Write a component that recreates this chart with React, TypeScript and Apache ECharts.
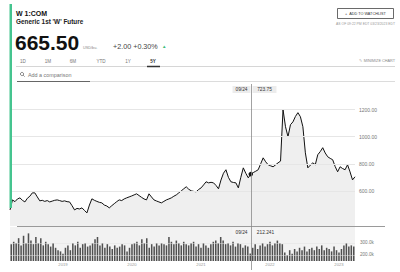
import React, { useEffect, useRef } from "react";
import * as echarts from "echarts";

const priceValues: number[] = [
  459, 533, 520, 540, 548, 530, 518, 545, 560, 585,
  585, 555, 526, 530, 522, 528, 518, 524, 530, 533,
  528, 522, 526, 520, 518, 490, 459, 470, 466, 474,
  455, 437, 495, 541, 530, 522, 515, 511, 495, 488,
  474, 490, 505, 520, 533, 528, 540, 548, 555, 562,
  570, 578, 565, 552, 540, 533, 578, 555, 533, 525,
  518, 511, 522, 533, 540, 548, 560, 570, 585, 600,
  615, 630, 612, 600, 596, 593, 610, 622, 644, 667,
  659, 663, 659, 640, 615, 680, 730, 756, 700, 667,
  662, 659, 622, 700, 770, 730, 696, 723.75, 735, 745,
  756, 800, 844, 815, 793, 785, 778, 792, 807, 820,
  1200, 1074, 1000, 1089, 1110, 1150, 1178, 1148, 1074, 881,
  770, 790, 807, 793, 867, 890, 919, 880, 852, 840,
  830, 780, 741, 778, 765, 756, 793, 740, 681, 704,
];

const volumeValues: number[] = [
  290, 310, 300, 340, 280, 360, 300, 380, 320, 290, 350,
  300, 340, 280, 310, 290, 270, 300, 260, 240, 230,
  210, 260, 280, 240, 300, 280, 310, 260, 290, 300,
  270, 280, 300, 330, 350,
  280, 300, 260, 290, 270, 250, 280, 260, 270, 290, 280, 230, 260, 290, 300,
  310, 280, 330, 300, 340, 260, 290, 270, 300, 280,
  300, 290, 280, 350, 310, 290, 320, 300, 280, 310, 290,
  280, 300, 310, 270, 290, 260, 300, 280, 260, 290, 310, 320, 300, 350,
  320, 290, 300, 280, 310, 270, 300, 290, 260, 280, 270, 212.241,
  260, 290, 250, 280, 300, 270, 290, 310, 280, 300,
  320, 300, 290, 220, 200, 240, 210, 250,
  230, 260, 240, 270, 230, 250, 260, 240, 270, 250,
  280, 240, 260, 250, 230, 270, 240, 220, 250, 280,
  300, 270, 280, 270,
];

const priceTicks: number[] = [600, 800, 1000, 1200];
const volumeTicks: number[] = [200, 300];
const tabLabels: string[] = ["1D", "1M", "6M", "YTD", "1Y", "5Y"];
const crosshairIndex = 97;
const crosshairDate = "09/24";

const END_DATE = Date.UTC(2023, 2, 24);
const STEP_DAYS = 13;
const pad = (n: number) => (n < 10 ? "0" + n : "" + n);
const categories: string[] = priceValues.map((_, i) => {
  const d = new Date(END_DATE - (priceValues.length - 1 - i) * STEP_DAYS * 86400000);
  return `${d.getUTCFullYear()}-${pad(d.getUTCMonth() + 1)}-${pad(d.getUTCDate())}`;
});

const FONT = "Liberation Sans, Arial, sans-serif";

export default function App() {
  const ref = useRef<HTMLDivElement>(null);
  useEffect(() => {
    if (!ref.current) return;
    const chart = echarts.init(ref.current, undefined, { renderer: "svg" });

    const tabX = [23, 48, 73, 101, 128, 153];
    const header: any[] = [
      { type: "rect", shape: { x: 9.5, y: 4, width: 2.5, height: 204 }, style: { fill: "#45c48f" }, z: 10 },
      { type: "text", x: 16, y: 13, style: { text: "W 1:COM", font: `bold 7px ${FONT}`, fill: "#111", verticalAlign: "middle" } },
      { type: "text", x: 16, y: 21, style: { text: "Generic 1st 'W' Future", font: `600 6.4px ${FONT}`, fill: "#222", verticalAlign: "middle" } },
      { type: "text", x: 15, y: 42, style: { text: "665.50", font: `bold 21px ${FONT}`, fill: "#111", verticalAlign: "middle" } },
      { type: "text", x: 83, y: 48, style: { text: "USD/bu.", font: `3.8px ${FONT}`, fill: "#888", verticalAlign: "middle" } },
      { type: "text", x: 113, y: 46, style: { text: "+2.00 +0.30%", font: `7.2px ${FONT}`, fill: "#444", verticalAlign: "middle" } },
      { type: "text", x: 162, y: 46, style: { text: "▲", font: `4.5px ${FONT}`, fill: "#3dbb7a", verticalAlign: "middle" } },
      ...tabLabels.map((t, i) => ({
        type: "text", x: tabX[i], y: 61,
        style: { text: t, font: `${t === "5Y" ? "bold " : ""}4.6px ${FONT}`, fill: t === "5Y" ? "#333" : "#777", align: "center", verticalAlign: "middle" },
      })),
      { type: "line", shape: { x1: 16, y1: 66.5, x2: 395, y2: 66.5 }, style: { stroke: "#d6d6d6", lineWidth: 1 } },
      { type: "line", shape: { x1: 147, y1: 66.5, x2: 160, y2: 66.5 }, style: { stroke: "#333", lineWidth: 1.5 } },
      { type: "rect", shape: { x: 337.5, y: 8.5, width: 56, height: 10 }, style: { fill: "#fff", stroke: "#444", lineWidth: 0.8 } },
      { type: "text", x: 365.5, y: 13.5, style: { text: "+  ADD TO WATCHLIST", font: `3.8px ${FONT}`, fill: "#333", align: "center", verticalAlign: "middle" } },
      { type: "text", x: 395, y: 24, style: { text: "AS OF 09:22 PM EDT 03/23/2023 EDT", font: `3.4px ${FONT}`, fill: "#999", align: "right", verticalAlign: "middle" } },
      { type: "text", x: 395, y: 61, style: { text: "✎  MINIMIZE CHART", font: `3.8px ${FONT}`, fill: "#888", align: "right", verticalAlign: "middle" } },
      { type: "circle", shape: { cx: 22, cy: 74, r: 1.6 }, style: { fill: "none", stroke: "#555", lineWidth: 0.7 } },
      { type: "line", shape: { x1: 23.2, y1: 75.2, x2: 24.6, y2: 76.6 }, style: { stroke: "#555", lineWidth: 0.7 } },
      { type: "text", x: 28, y: 74.5, style: { text: "Add a comparison", font: `5.4px ${FONT}`, fill: "#777", verticalAlign: "middle" } },
      { type: "line", shape: { x1: 90, y1: 81.5, x2: 395, y2: 81.5 }, style: { stroke: "#dcdcdc", lineWidth: 1 } },
      { type: "line", shape: { x1: 17, y1: 81.5, x2: 90, y2: 81.5 }, style: { stroke: "#666", lineWidth: 1 } },
      { type: "text", x: 18, y: 220, style: { text: "BloombergMarkets", font: `bold 8.5px ${FONT}`, fill: "#d9d9d9", verticalAlign: "middle" }, z: 1 },
      { type: "line", shape: { x1: 17, y1: 226.5, x2: 385, y2: 226.5 }, style: { stroke: "#9a9a9a", lineWidth: 1 }, z: 10 },
    ];

    const option: any = {
      animation: false,
      backgroundColor: "#fff",
      grid: [
        { left: 10, right: 45, top: 84, height: 142, show: false },
        { left: 10, right: 45, top: 227, height: 34, show: true, backgroundColor: "#f2f2f2", borderWidth: 0 },
      ],
      xAxis: [
        { type: "category", gridIndex: 0, data: categories, boundaryGap: false, show: false },
        {
          type: "category", gridIndex: 1, data: categories, boundaryGap: true,
          axisLine: { show: false }, axisTick: { show: false },
          axisLabel: {
            margin: 1, fontSize: 4.2, color: "#999", fontFamily: FONT,
            interval: (i: number) => i > 0 && categories[i].slice(0, 4) !== categories[i - 1].slice(0, 4),
            formatter: (v: string) => v.slice(0, 4),
          },
        },
      ],
      yAxis: [
        { type: "value", gridIndex: 0, min: 340, max: 1390, show: false, splitLine: { show: false } },
        { type: "value", gridIndex: 1, min: 150, max: 433, show: false, splitLine: { show: false } },
      ],
      series: [
        {
          type: "line", xAxisIndex: 0, yAxisIndex: 0, data: priceValues, showSymbol: false,
          lineStyle: { color: "#111", width: 1 }, areaStyle: { color: "#efefef", opacity: 1 },
          markLine: {
            silent: true, symbol: "none",
            lineStyle: { color: "#e6e6e6", type: "solid", width: 1 },
            label: { position: "end", formatter: (p: any) => Number(p.value).toFixed(2), fontSize: 5, color: "#777", fontFamily: FONT, distance: 4 },
            data: priceTicks.map((v) => ({ yAxis: v })),
          },
          markPoint: {
            silent: true, symbol: "circle", symbolSize: 4.5,
            itemStyle: { color: "#111" }, label: { show: false },
            data: [{ coord: [crosshairIndex, priceValues[crosshairIndex]] }],
          },
          z: 3,
        },
        {
          type: "bar", xAxisIndex: 1, yAxisIndex: 1, data: volumeValues, barWidth: "62%",
          itemStyle: { color: "#505050" },
          markLine: {
            silent: true, symbol: "none",
            lineStyle: { color: "#e2e2e2", type: "solid", width: 0.5 },
            label: { position: "end", formatter: (p: any) => `${Number(p.value).toFixed(1)}k`, fontSize: 4.6, color: "#777", fontFamily: FONT, distance: 5 },
            data: volumeTicks.map((v) => ({ yAxis: v })),
          },
        },
      ],
      graphic: header,
    };
    chart.setOption(option);

    const p = chart.convertToPixel({ xAxisIndex: 0, yAxisIndex: 0 }, [crosshairIndex, priceValues[crosshairIndex]]) as number[];
    const xc = Math.round(p[0]) + 0.5;
    const vtxt = priceValues[crosshairIndex].toFixed(2);
    const vvol = volumeValues[crosshairIndex].toFixed(3);
    const boxes: any[] = [
      { type: "line", shape: { x1: xc, y1: 84, x2: xc, y2: 270 }, style: { stroke: "#8a8a8a", lineWidth: 0.8 }, z: 20 },
      { type: "rect", shape: { x: xc - 19, y: 86, width: 18, height: 7 }, style: { fill: "#ececec" }, z: 20 },
      { type: "text", x: xc - 10, y: 89.8, style: { text: crosshairDate, font: `4.8px ${FONT}`, fill: "#333", align: "center", verticalAlign: "middle" }, z: 21 },
      { type: "rect", shape: { x: xc + 1, y: 86, width: 24, height: 7 }, style: { fill: "#ececec" }, z: 20 },
      { type: "text", x: xc + 13, y: 89.8, style: { text: vtxt, font: `4.8px ${FONT}`, fill: "#333", align: "center", verticalAlign: "middle" }, z: 21 },
      { type: "rect", shape: { x: xc - 19, y: 228.5, width: 18, height: 7 }, style: { fill: "#f4f4f4" }, z: 20 },
      { type: "text", x: xc - 10, y: 232.3, style: { text: crosshairDate, font: `4.8px ${FONT}`, fill: "#333", align: "center", verticalAlign: "middle" }, z: 21 },
      { type: "rect", shape: { x: xc + 1, y: 228.5, width: 26, height: 7 }, style: { fill: "#f4f4f4" }, z: 20 },
      { type: "text", x: xc + 14, y: 232.3, style: { text: vvol, font: `4.8px ${FONT}`, fill: "#333", align: "center", verticalAlign: "middle" }, z: 21 },
    ];
    chart.setOption({ graphic: [...header, ...boxes] });

    return () => chart.dispose();
  }, []);

  return (
    <div
      ref={ref}
      style={{ position: "absolute", left: 0, top: 0, width: 400, height: 272, background: "#fff" }}
    />
  );
}
